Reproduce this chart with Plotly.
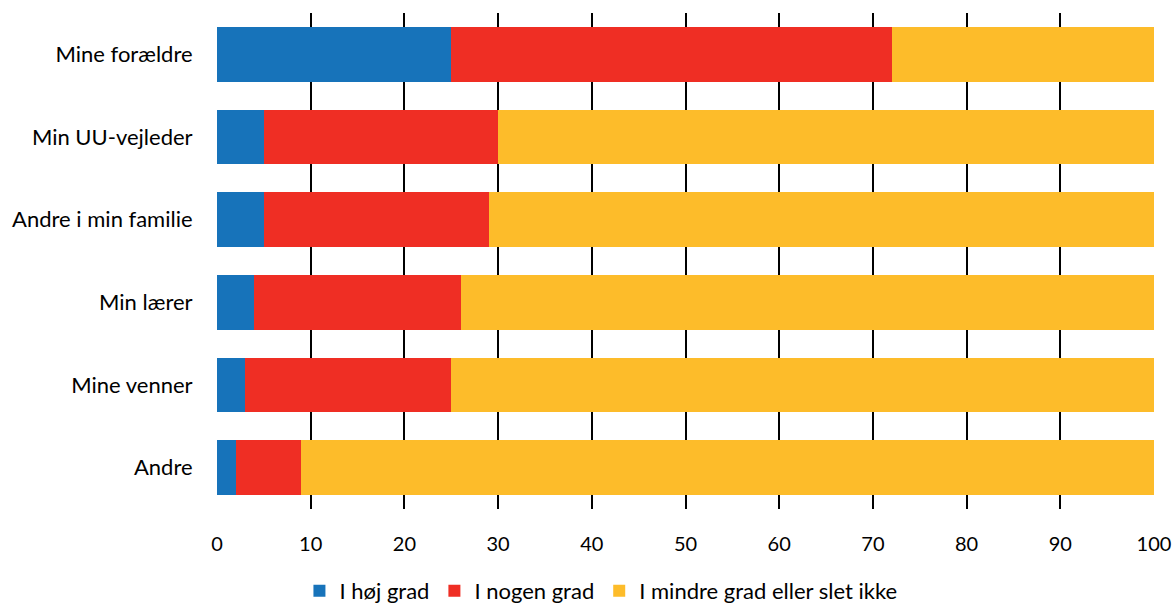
import plotly.graph_objects as go

categories = ["Mine forældre", "Min UU-vejleder", "Andre i min familie", "Min lærer", "Mine venner", "Andre"]
series_names = ["I høj grad", "I nogen grad", "I mindre grad eller slet ikke"]
hoej = [25, 5, 5, 4, 3, 2]
nogen = [47, 25, 24, 22, 22, 7]
mindre = [28, 70, 71, 74, 75, 91]
colors = ["#1773BA", "#EF2E24", "#FDBC2A"]
x_ticks = [0, 10, 20, 30, 40, 50, 60, 70, 80, 90, 100]

fig = go.Figure()
for name, vals, col in zip(series_names, [hoej, nogen, mindre], colors):
    fig.add_trace(go.Bar(y=categories, x=vals, name=name, orientation="h",
                         marker=dict(color=col, line=dict(width=0))))

font = "Lato, 'Open Sans', sans-serif"
fig.update_layout(
    barmode="stack",
    bargap=0.335,
    width=1176, height=606,
    margin=dict(l=217, r=22, t=13, b=97),
    plot_bgcolor="white", paper_bgcolor="white",
    font=dict(family=font, size=22, color="#000000"),
    showlegend=True,
    legend=dict(orientation="h", xref="container", yref="container",
                x=0.511, xanchor="center", y=0.025, yanchor="middle",
                font=dict(size=22), itemwidth=30, traceorder="normal"),
    xaxis=dict(range=[0, 100], tickvals=x_ticks, showgrid=True, gridcolor="#000000",
               gridwidth=2, zeroline=False, showline=False, ticks="outside",
               ticklen=17, tickcolor="rgba(0,0,0,0)",
               tickfont=dict(size=20), automargin=False),
    yaxis=dict(autorange="reversed", showgrid=False, showline=False, ticks="outside",
               ticklen=19, tickcolor="rgba(0,0,0,0)", tickfont=dict(size=22),
               automargin=False),
)
fig.write_html("out.html", config={"displayModeBar": False})

with open("out.html", "r", encoding="utf-8") as f:
    html = f.read()
html = html.replace("<head>", "<head><style>html,body{margin:0;padding:0;overflow:hidden;}</style>", 1)
with open("out.html", "w", encoding="utf-8") as f:
    f.write(html)
